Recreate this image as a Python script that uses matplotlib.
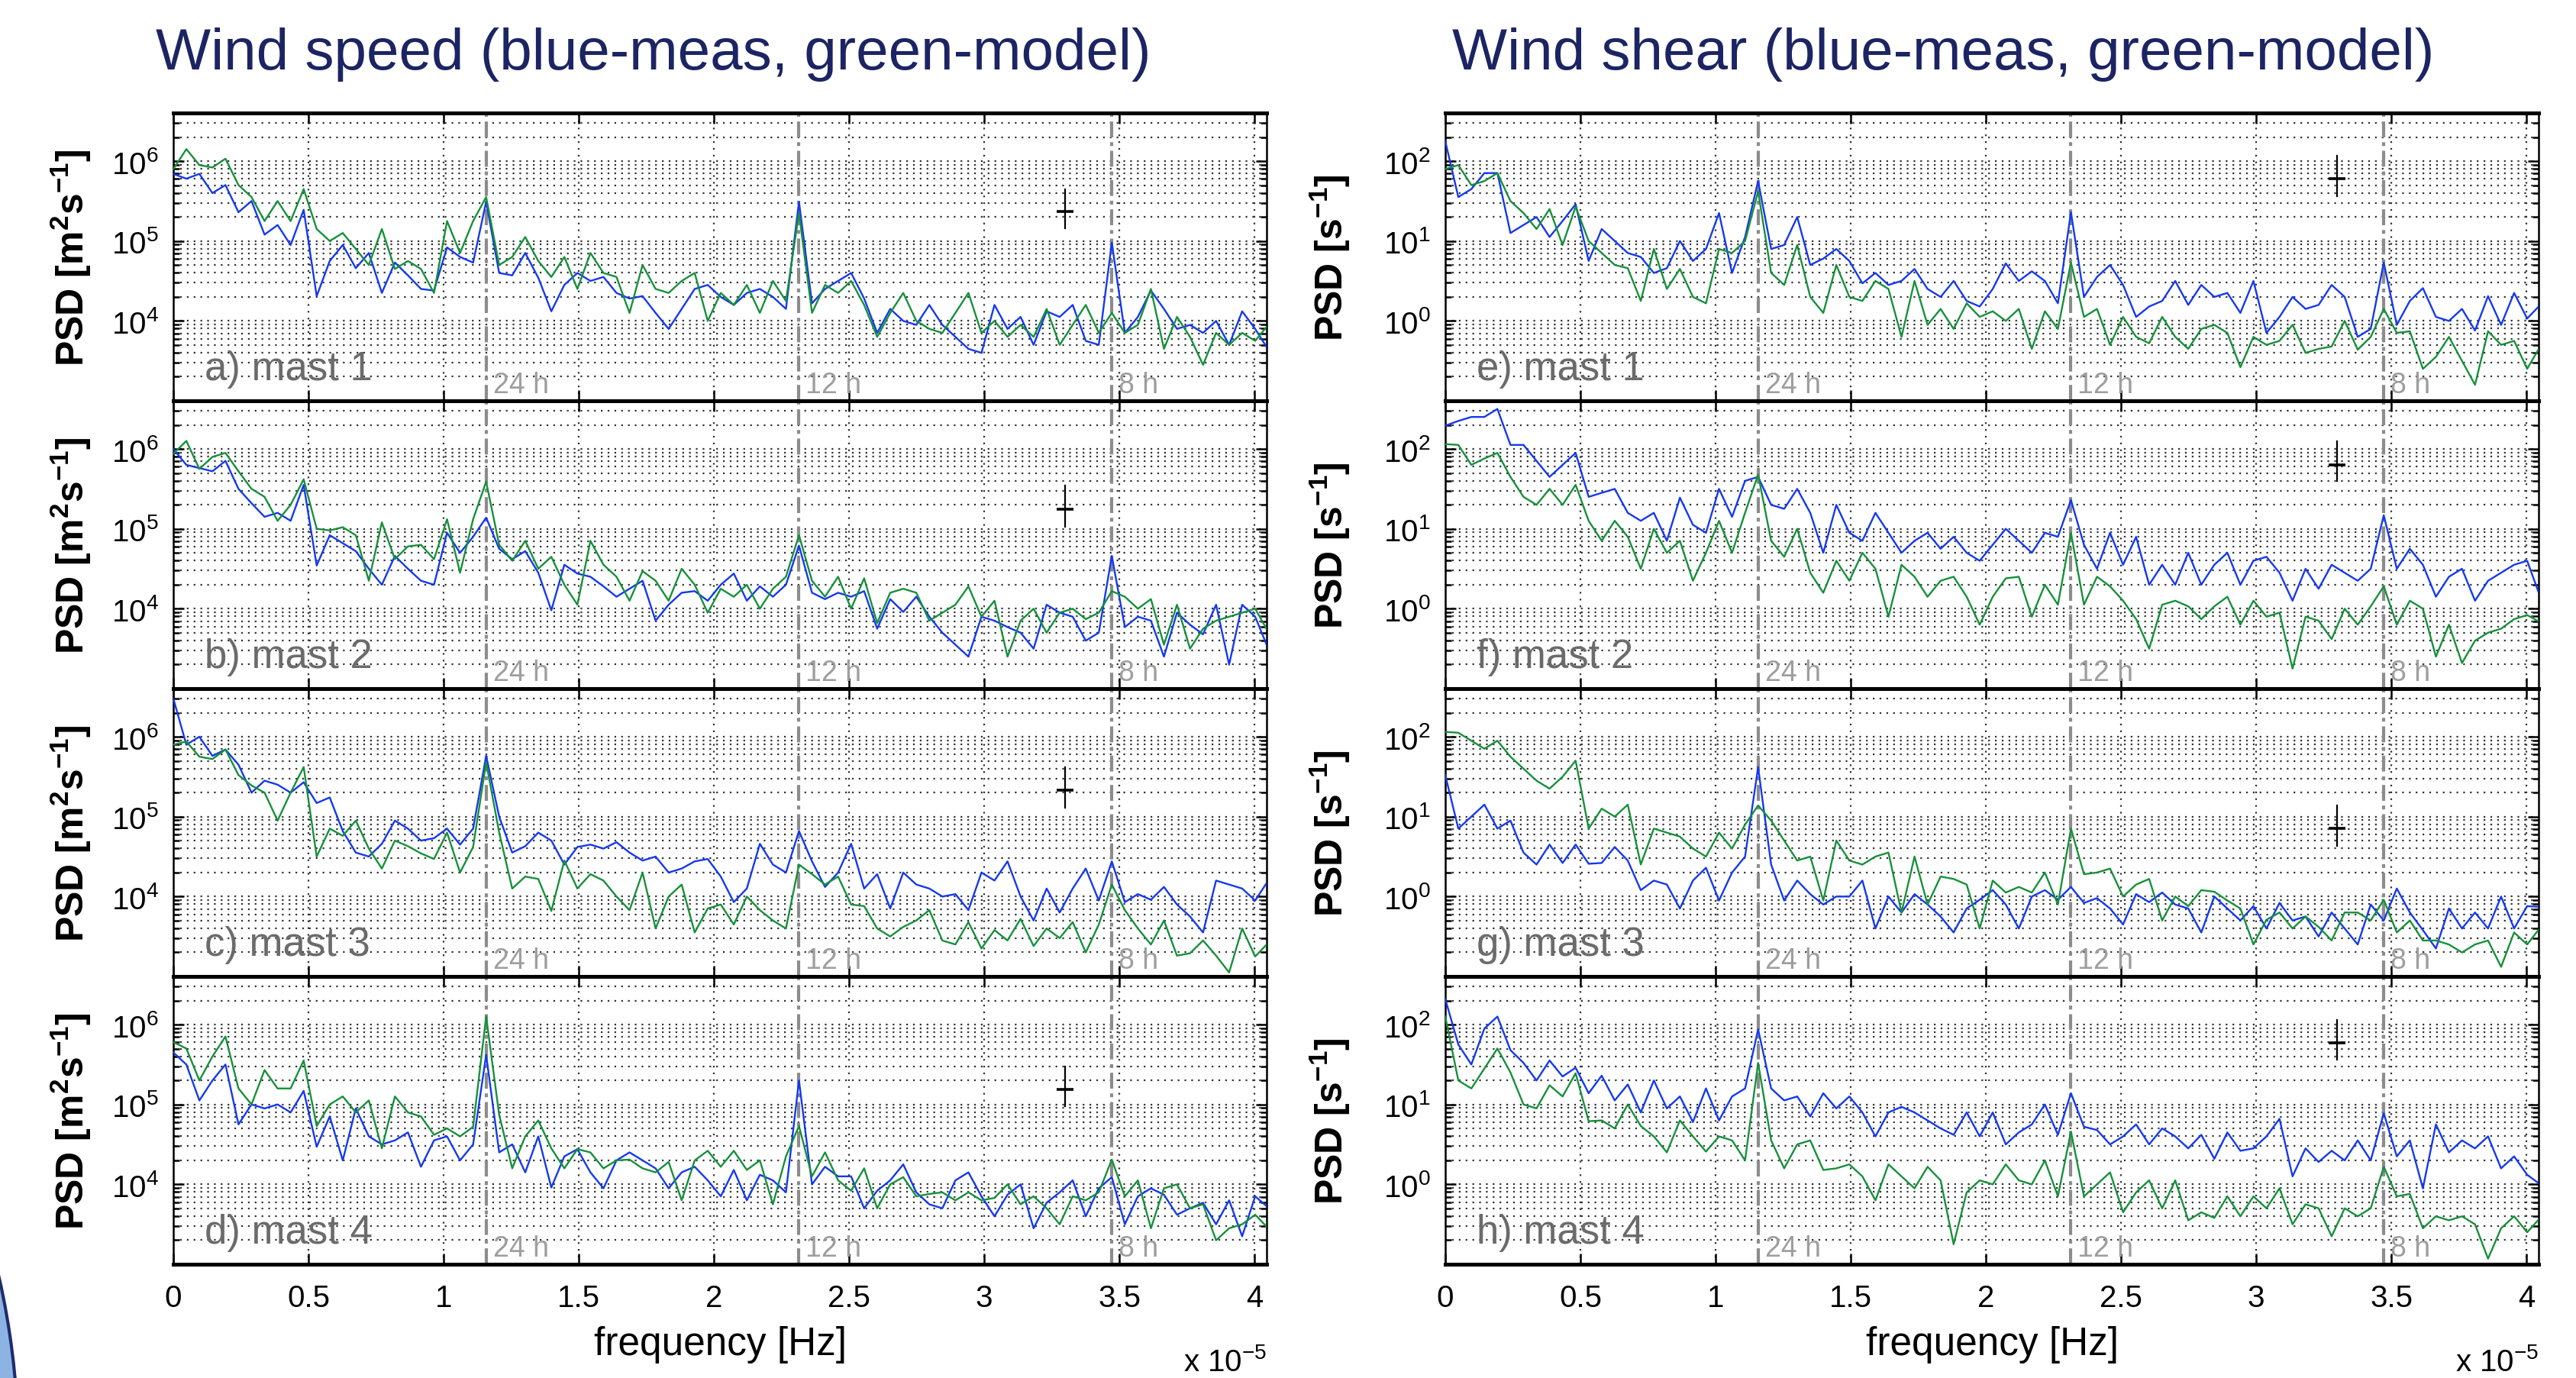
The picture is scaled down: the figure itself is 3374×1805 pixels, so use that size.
import numpy as np
import matplotlib.pyplot as plt
from matplotlib.patches import Ellipse
from matplotlib.ticker import FixedLocator, NullFormatter

plt.rcParams['font.family'] = ['Liberation Sans', 'DejaVu Sans']
plt.rcParams['mathtext.fontset'] = 'custom'
plt.rcParams['mathtext.rm'] = 'Liberation Sans'
plt.rcParams['mathtext.it'] = 'Liberation Sans:italic'
plt.rcParams['mathtext.bf'] = 'Liberation Sans:bold'
plt.rcParams['mathtext.default'] = 'regular'

# frequency axis in units of 1e-5 Hz, 24 bins per cycle/day
f_day = 1e5 / 86400.0
n_bins = 85
period_hours = [24, 12, 8]
xtick_vals = [0, 0.5, 1, 1.5, 2, 2.5, 3, 3.5, 4]
xtick_labels = ['0', '0.5', '1', '1.5', '2', '2.5', '3', '3.5', '4']

# log10 of PSD
# wind speed, measured (blue)
spd_meas_1 = [5.84, 5.78, 5.84, 5.6, 5.7, 5.36, 5.5, 5.08, 5.2, 4.95,
              5.39, 4.31, 4.75, 4.95, 4.66, 4.85, 4.35, 4.73, 4.57, 4.4,
              4.38, 4.92, 4.8, 4.73, 5.49, 4.6, 4.57, 4.85, 4.54, 4.12,
              4.45, 4.6, 4.5, 4.55, 4.35, 4.28, 4.31, 4.1, 3.9, 4.15,
              4.4, 4.45, 4.3, 4.2, 4.35, 4.4, 4.3, 4.15, 5.49, 4.22,
              4.4, 4.5, 4.6, 4.28, 3.85, 4.15, 4.0, 3.95, 4.2, 3.95,
              3.8, 3.65, 3.6, 4.2, 3.9, 4.05, 3.7, 4.12, 4.05, 4.2,
              3.75, 3.7, 4.98, 3.85, 4.05, 4.38, 4.15, 3.9, 3.95, 3.85,
              4.0, 3.7, 4.12, 3.9, 3.64]
spd_meas_2 = [6.0, 5.8, 5.76, 5.72, 5.85, 5.5, 5.32, 5.15, 5.2, 5.1,
              5.55, 4.54, 4.92, 4.82, 4.72, 4.5, 4.3, 4.66, 4.5, 4.35,
              4.3, 4.95, 4.7, 4.9, 5.14, 4.75, 4.62, 4.72, 4.45, 3.98,
              4.55, 4.44, 4.4, 4.28, 4.15, 4.25, 4.35, 3.85, 4.05, 4.2,
              4.22, 4.1, 4.3, 4.44, 4.1, 4.28, 4.15, 4.3, 4.79, 4.2,
              4.12, 4.2, 4.15, 4.22, 3.75, 4.12, 3.96, 4.15, 3.9, 3.7,
              3.55, 3.4, 3.9, 3.85, 3.77, 3.7, 3.5, 4.05, 3.95, 3.9,
              3.6, 3.7, 4.66, 3.77, 3.9, 3.85, 3.4, 3.95, 3.8, 3.68,
              4.05, 3.3, 4.05, 3.9, 3.5]
spd_meas_3 = [6.48, 5.9, 6.0, 5.76, 5.84, 5.65, 5.3, 5.45, 5.4, 5.3,
              5.43, 5.17, 5.24, 4.82, 4.55, 4.5, 4.66, 4.95, 4.85, 4.7,
              4.73, 4.85, 4.65, 4.85, 5.76, 5.0, 4.55, 4.63, 4.8, 4.7,
              4.4, 4.62, 4.65, 4.6, 4.68, 4.55, 4.45, 4.5, 4.3, 4.35,
              4.44, 4.47, 4.25, 3.93, 4.1, 4.66, 4.4, 4.3, 4.82, 4.44,
              4.12, 4.3, 4.66, 4.1, 4.28, 3.85, 4.3, 4.15, 4.1, 4.0,
              4.03, 3.83, 4.3, 4.2, 4.44, 4.0, 3.7, 4.1, 3.8, 4.1,
              4.35, 3.95, 4.44, 3.93, 4.03, 3.96, 4.12, 3.9, 3.75, 3.55,
              4.2, 4.15, 4.1, 3.95, 4.2]
spd_meas_4 = [5.65, 5.5, 5.05, 5.3, 5.5, 4.75, 5.0, 4.95, 5.0, 4.9,
              5.17, 4.47, 4.85, 4.3, 4.95, 4.6, 4.5, 4.55, 4.65, 4.22,
              4.55, 4.6, 4.3, 4.5, 5.62, 4.4, 4.5, 4.15, 4.6, 3.96,
              4.35, 4.44, 4.15, 3.95, 4.3, 4.4, 4.3, 4.2, 3.95, 4.15,
              4.22, 4.05, 3.85, 4.18, 3.8, 4.12, 4.05, 3.9, 5.3, 4.0,
              4.22, 4.1, 4.1, 3.7, 3.92, 4.05, 4.25, 3.9, 3.75, 3.7,
              4.05, 4.15, 3.85, 3.6, 3.87, 4.0, 3.45, 3.77, 3.9, 4.05,
              3.6, 3.95, 4.09, 3.5, 3.85, 3.95, 3.87, 3.62, 3.7, 3.77,
              3.5, 3.8, 3.35, 3.85, 3.71]

# wind speed, model (green)
spd_model_1 = [5.90, 6.15, 5.95, 5.92, 6.03, 5.70, 5.55, 5.25, 5.5, 5.25,
               5.65, 5.15, 5.0, 5.1, 4.9, 4.7, 5.15, 4.65, 4.75, 4.65,
               4.35, 5.25, 4.85, 5.25, 5.55, 4.7, 4.8, 5.05, 4.75, 4.55,
               4.8, 4.4, 4.85, 4.6, 4.55, 4.1, 4.7, 4.4, 4.35, 4.5,
               4.6, 4.0, 4.35, 4.2, 4.45, 4.1, 4.5, 4.25, 5.35, 4.1,
               4.45, 4.35, 4.5, 4.2, 3.8, 4.1, 4.35, 4.0, 3.9, 3.85,
               4.1, 4.35, 3.85, 4.0, 3.8, 3.95, 3.8, 4.15, 3.7, 3.95,
               4.2, 3.85, 4.1, 3.85, 3.95, 4.4, 3.65, 4.05, 3.8, 3.45,
               3.85, 3.7, 3.85, 3.75, 3.95]
spd_model_2 = [5.94, 6.1, 5.75, 5.9, 5.95, 5.72, 5.5, 5.4, 5.1, 5.3,
               5.62, 5.0, 4.98, 5.02, 4.92, 4.35, 5.08, 4.62, 4.78, 4.8,
               4.62, 5.12, 4.45, 5.12, 5.59, 4.8, 4.6, 4.85, 4.5, 4.65,
               4.3, 4.05, 4.85, 4.55, 4.4, 4.1, 4.47, 4.35, 4.1, 4.5,
               4.3, 3.95, 4.25, 4.15, 4.3, 4.0, 4.25, 4.4, 4.92, 4.35,
               4.15, 4.4, 4.0, 4.38, 3.82, 4.2, 4.25, 4.2, 3.85, 3.95,
               4.05, 4.28, 3.9, 4.1, 3.4, 3.85, 4.0, 3.7, 3.95, 4.0,
               3.87, 3.95, 4.22, 4.15, 4.0, 4.12, 3.55, 4.05, 3.5, 3.75,
               3.85, 3.9, 3.95, 4.0, 3.71]
spd_model_3 = [5.9, 5.94, 5.75, 5.72, 5.84, 5.52, 5.39, 5.3, 4.95, 5.3,
               5.62, 4.5, 4.85, 4.76, 4.95, 4.6, 4.35, 4.7, 4.63, 4.54,
               4.47, 4.8, 4.3, 4.62, 5.68, 4.8, 4.1, 4.25, 4.22, 3.82,
               4.45, 4.1, 4.28, 4.2, 4.0, 3.83, 4.3, 3.6, 4.0, 4.15,
               3.55, 3.85, 3.9, 3.65, 4.0, 3.83, 3.7, 3.6, 4.4, 4.28,
               4.15, 4.25, 3.9, 3.88, 3.6, 3.5, 3.62, 3.7, 3.83, 3.45,
               3.4, 3.68, 3.35, 3.58, 3.45, 3.72, 3.38, 3.6, 3.48, 3.68,
               3.3, 3.65, 4.15, 3.83, 3.6, 3.4, 3.7, 3.26, 3.29, 3.45,
               3.26, 3.05, 3.6, 3.25, 3.42]
spd_model_4 = [5.78, 5.7, 5.3, 5.6, 5.85, 5.2, 5.0, 5.43, 5.2, 5.2,
               5.55, 4.73, 5.0, 5.1, 4.9, 5.05, 4.45, 5.1, 4.9, 4.85,
               4.62, 4.7, 4.6, 4.72, 6.1, 4.87, 4.2, 4.6, 4.8, 4.45,
               4.2, 4.44, 4.4, 4.2, 4.3, 4.31, 4.2, 4.15, 4.28, 3.8,
               4.3, 4.42, 4.22, 4.42, 4.18, 4.3, 3.75, 4.35, 4.73, 4.1,
               4.4, 4.05, 3.92, 4.2, 3.7, 4.0, 4.09, 3.85, 3.88, 3.9,
               3.8, 3.9, 3.8, 3.83, 4.0, 3.75, 3.85, 3.7, 3.5, 3.85,
               3.8, 3.9, 4.31, 3.85, 4.05, 3.45, 3.95, 4.0, 3.7, 3.75,
               3.3, 3.45, 3.5, 3.62, 3.45]

# wind shear, measured (blue)
shr_meas_1 = [2.25, 1.55, 1.65, 1.85, 1.85, 1.1, 1.2, 1.3, 1.05, 1.25,
              1.46, 0.75, 1.15, 1.0, 0.85, 0.8, 0.6, 0.66, 1.0, 0.75,
              0.9, 1.35, 0.6, 1.05, 1.75, 0.9, 0.95, 1.3, 0.7, 0.78,
              0.9, 0.75, 0.47, 0.6, 0.45, 0.5, 0.65, 0.4, 0.3, 0.5,
              0.25, 0.18, 0.4, 0.72, 0.5, 0.62, 0.5, 0.22, 1.36, 0.3,
              0.55, 0.7, 0.45, 0.05, 0.18, 0.25, 0.5, 0.2, 0.45, 0.3,
              0.35, 0.1, 0.5, -0.15, 0.05, 0.3, 0.15, 0.2, 0.45, 0.3,
              -0.2, -0.1, 0.73, -0.05, 0.25, 0.41, 0.05, 0.0, 0.15, -0.12,
              0.31, -0.05, 0.35, 0.03, 0.2]
shr_meas_2 = [2.29, 2.35, 2.4, 2.4, 2.5, 2.05, 2.05, 1.85, 1.65, 1.8,
              1.95, 1.4, 1.45, 1.5, 1.2, 1.1, 1.2, 0.85, 1.39, 1.05,
              0.95, 1.5, 1.15, 1.6, 1.65, 1.3, 1.25, 1.5, 1.2, 0.7,
              1.3, 0.95, 0.85, 1.2, 0.95, 0.7, 0.85, 0.95, 0.75, 0.9,
              0.7, 0.6, 0.8, 1.0, 0.85, 0.7, 0.95, 0.9, 1.36, 0.8,
              0.5, 0.95, 0.55, 0.9, 0.3, 0.55, 0.3, 0.7, 0.3, 0.55,
              0.7, 0.3, 0.6, 0.65, 0.45, 0.1, 0.5, 0.25, 0.55, 0.45,
              0.35, 0.5, 1.17, 0.5, 0.75, 0.55, 0.15, 0.4, 0.5, 0.1,
              0.35, 0.45, 0.55, 0.6, 0.15]
shr_meas_3 = [1.52, 0.85, 1.0, 1.15, 0.85, 0.95, 0.55, 0.4, 0.65, 0.42,
              0.65, 0.41, 0.42, 0.62, 0.45, 0.08, 0.2, 0.15, -0.15, 0.2,
              0.36, -0.05, 0.3, 0.5, 1.62, 0.4, -0.05, 0.2, 0.03, -0.1,
              0.0, 0.0, 0.2, -0.4, 0.0, -0.2, 0.03, -0.1, -0.25, -0.45,
              -0.15, -0.04, 0.08, -0.1, -0.4, 0.0, 0.08, -0.04, 0.12, -0.08,
              -0.02, -0.15, -0.35, 0.03, -0.07, 0.05, -0.1, -0.15, -0.45, 0.0,
              -0.15, -0.3, -0.12, -0.4, -0.08, -0.3, -0.25, -0.5, -0.2, -0.4,
              -0.6, -0.1, -0.3, 0.1, -0.2, -0.42, -0.65, -0.15, -0.4, -0.2,
              -0.4, 0.0, -0.4, -0.12, -0.13]
shr_meas_4 = [2.32, 1.75, 1.5, 1.95, 2.1, 1.68, 1.52, 1.3, 1.55, 1.35,
              1.46, 1.14, 1.36, 1.05, 1.25, 0.9, 1.3, 0.95, 1.1, 0.78,
              1.2, 0.8, 1.1, 1.2, 1.94, 1.2, 1.05, 1.1, 0.85, 1.14,
              0.95, 1.1, 0.9, 0.6, 0.9, 0.97, 0.9, 0.8, 0.7, 0.62,
              0.9, 0.6, 0.9, 0.5, 0.65, 0.75, 1.0, 0.62, 1.14, 0.72,
              0.68, 0.5, 0.6, 0.75, 0.5, 0.7, 0.6, 0.45, 0.62, 0.32,
              0.65, 0.42, 0.45, 0.6, 0.82, 0.1, 0.45, 0.28, 0.42, 0.3,
              0.55, 0.3, 0.89, 0.35, 0.55, -0.05, 0.75, 0.4, 0.55, 0.45,
              0.6, 0.2, 0.35, 0.12, 0.0]

# wind shear, model (green)
shr_model_1 = [1.9, 1.95, 1.7, 1.75, 1.85, 1.5, 1.35, 1.15, 1.4, 0.95,
               1.43, 1.0, 0.85, 0.7, 0.66, 0.25, 0.9, 0.4, 0.65, 0.3,
               0.22, 0.9, 0.85, 1.0, 1.62, 0.6, 0.45, 0.95, 0.3, 0.1,
               0.7, 0.3, 0.25, 0.5, 0.4, -0.2, 0.5, -0.05, 0.15, -0.1,
               0.22, 0.05, 0.12, 0.0, 0.15, -0.35, 0.12, -0.1, 0.73, 0.05,
               0.15, -0.3, 0.05, -0.2, -0.28, 0.05, -0.2, -0.35, -0.1, -0.05,
               -0.15, -0.58, -0.2, -0.3, -0.25, -0.05, -0.4, -0.35, -0.32, 0.0,
               -0.36, -0.2, 0.15, -0.15, -0.13, -0.6, -0.45, -0.2, -0.5, -0.8,
               -0.13, -0.3, -0.25, -0.6, -0.32]
shr_model_2 = [2.06, 2.05, 1.8, 1.88, 1.95, 1.65, 1.4, 1.3, 1.5, 1.3,
               1.55, 1.1, 0.85, 1.1, 0.9, 0.5, 1.0, 0.7, 0.85, 0.35,
               0.7, 1.1, 0.7, 1.2, 1.68, 0.85, 0.65, 1.0, 0.45, 0.2,
               0.6, 0.35, 0.7, 0.5, -0.1, 0.55, 0.4, 0.15, 0.35, 0.4,
               0.15, -0.2, 0.15, 0.38, 0.4, -0.1, 0.3, 0.05, 0.95, 0.05,
               0.4, 0.28, 0.1, -0.13, -0.5, 0.05, 0.1, 0.03, -0.13, 0.03,
               0.15, -0.2, 0.1, -0.1, -0.05, -0.75, -0.1, -0.15, -0.38, 0.0,
               -0.2, 0.03, 0.28, -0.2, 0.1, 0.0, -0.6, -0.2, -0.68, -0.4,
               -0.3, -0.25, -0.13, -0.08, -0.17]
shr_model_3 = [2.06, 2.05, 1.95, 1.85, 1.95, 1.75, 1.6, 1.45, 1.35, 1.5,
               1.7, 0.85, 1.1, 1.0, 1.15, 0.4, 0.85, 0.8, 0.75, 0.6,
               0.5, 0.8, 0.6, 0.9, 1.14, 0.95, 0.7, 0.45, 0.5, -0.05,
               0.7, 0.45, 0.4, 0.5, 0.55, -0.2, 0.5, -0.1, 0.25, 0.22,
               0.15, -0.4, 0.2, 0.05, 0.12, 0.05, 0.3, -0.1, 0.85, 0.28,
               0.3, 0.35, 0.0, 0.15, 0.22, -0.3, 0.0, -0.12, 0.08, 0.06,
               -0.05, -0.15, -0.6, -0.29, -0.2, -0.4, -0.25, -0.38, -0.55, -0.2,
               -0.2, -0.3, -0.04, -0.45, -0.3, -0.55, -0.55, -0.6, -0.7, -0.6,
               -0.55, -0.88, -0.45, -0.6, -0.39]
shr_model_4 = [2.1, 1.3, 1.2, 1.45, 1.7, 1.4, 1.0, 0.95, 1.24, 1.1,
               1.39, 0.79, 0.8, 0.7, 1.0, 0.73, 0.6, 0.4, 0.8, 0.6,
               0.41, 0.6, 0.55, 0.3, 1.52, 0.55, 0.2, 0.5, 0.55, 0.18,
               0.2, 0.25, 0.1, -0.2, 0.25, 0.1, -0.05, 0.22, 0.05, -0.75,
               -0.1, 0.05, 0.0, 0.25, 0.05, 0.0, 0.3, -0.15, 0.66, -0.15,
               0.0, 0.15, -0.35, -0.1, 0.05, -0.3, 0.05, -0.45, -0.35, -0.42,
               -0.15, -0.4, -0.15, -0.3, -0.05, -0.5, -0.25, -0.3, -0.65, -0.3,
               -0.4, -0.3, 0.22, -0.15, -0.12, -0.55, -0.4, -0.45, -0.4, -0.5,
               -0.93, -0.55, -0.4, -0.6, -0.42]

# confidence bars (log10 low / centre / high) at f = 3.3e-5
err_x = 3.30
spd_err_lo = [5.16, 5.03, 5.11, 4.98]
spd_err_mid = [5.37, 5.25, 5.33, 5.19]
spd_err_hi = [5.65, 5.54, 5.62, 5.47]
shr_err_lo = [1.56, 1.60, 0.63, 1.56]
shr_err_mid = [1.78, 1.80, 0.85, 1.77]
shr_err_hi = [2.07, 2.10, 1.14, 2.06]

masts = ['mast 1', 'mast 2', 'mast 3', 'mast 4']
letters_spd = ['a)', 'b)', 'c)', 'd)']
letters_shr = ['e)', 'f)', 'g)', 'h)']

blue = '#1438f0'
green = '#16903a'
navy = '#1c2463'

W, H = 3374, 1806
fig = plt.figure(figsize=(W / 200, H / 200), dpi=200)
fig.patch.set_facecolor('white')

col_left = [227, 1893]
row_top = [149, 526, 903, 1280]
pw, ph = 1432, 377

columns = [
    dict(meas=[spd_meas_1, spd_meas_2, spd_meas_3, spd_meas_4],
         model=[spd_model_1, spd_model_2, spd_model_3, spd_model_4],
         lo=spd_err_lo, mid=spd_err_mid, hi=spd_err_hi,
         letters=letters_spd, decades=[3, 4, 5], top=4e6,
         ylabel='PSD [m$^2$s$^{-1}$]', labx=-0.073,
         title='Wind speed (blue-meas, green-model)', titlex=204),
    dict(meas=[shr_meas_1, shr_meas_2, shr_meas_3, shr_meas_4],
         model=[shr_model_1, shr_model_2, shr_model_3, shr_model_4],
         lo=shr_err_lo, mid=shr_err_mid, hi=shr_err_hi,
         letters=letters_shr, decades=[-1, 0, 1], top=4e2,
         ylabel='PSD [s$^{-1}$]', labx=-0.085,
         title='Wind shear (blue-meas, green-model)', titlex=1902),
]

freq = np.arange(n_bins) * f_day / 24

for c, col in enumerate(columns):
    for r in range(4):
        ax = fig.add_axes([col_left[c] / W, 1 - (row_top[r] + ph) / H, pw / W, ph / H])
        dec = col['decades']
        bottom = 10.0 ** dec[0]

        ax.semilogy(freq, 10 ** np.array(col['meas'][r]), color=blue, lw=0.85, zorder=3)
        ax.semilogy(freq, 10 ** np.array(col['model'][r]), color=green, lw=0.85, zorder=3)

        ax.set_xlim(0, 4.045)
        ax.set_ylim(bottom, col['top'])

        # ticks and grid
        ax.set_xticks(xtick_vals)
        major = [10.0 ** d for d in dec[1:]] + [10.0 ** (dec[-1] + 1)]
        ax.set_yticks(major)
        ax.set_yticklabels(['$10^{%d}$' % (d) for d in dec[1:] + [dec[-1] + 1]])
        minors = [k * 10.0 ** d for d in dec + [dec[-1] + 1] for k in range(2, 10)]
        minors = [m for m in minors if m <= col['top'] * 1.001]
        ax.yaxis.set_minor_locator(FixedLocator(minors))
        ax.yaxis.set_minor_formatter(NullFormatter())
        ax.grid(True, which='major', axis='x', ls=(0, (1, 3)), color='0.2', lw=0.8)
        ax.grid(True, which='both', axis='y', ls=(0, (1, 3)), color='0.2', lw=0.8)
        ax.axhline(bottom, color='0.2', lw=0.8, ls=(0, (1, 3)))
        ax.tick_params(which='both', direction='in', top=True, right=True, labelsize=14.5)
        ax.tick_params(which='major', length=5, width=0.9, pad=7)
        ax.tick_params(which='minor', length=3, width=0.9)
        if r < 3:
            ax.set_xticklabels([])
        else:
            ax.set_xticklabels(xtick_labels)
            ax.tick_params(axis='x', pad=9)

        for side in ['top', 'bottom']:
            ax.spines[side].set_linewidth(1.8)
        for side in ['left', 'right']:
            ax.spines[side].set_linewidth(0.9)

        # diurnal harmonics
        for h in period_hours:
            xf = 1e5 / (h * 3600.0)
            ax.axvline(xf, color='0.55', lw=1.5, ls=(0, (5, 1.5, 1.2, 1.5)), zorder=2)
            ax.text(xf + 0.025, 0.03, '%d h' % h, transform=ax.get_xaxis_transform(),
                    color='0.62', fontsize=13.5, ha='left', va='baseline')

        # confidence bar
        ax.plot([err_x, err_x], [10 ** col['lo'][r], 10 ** col['hi'][r]], color='k', lw=0.8, zorder=4)
        ax.plot([err_x], [10 ** col['mid'][r]], marker='_', ms=8, mew=1.3, color='k', zorder=4)

        ax.text(0.0286, 0.074, '%s %s' % (col['letters'][r], masts[r]), transform=ax.transAxes,
                color='0.42', fontsize=19, ha='left', va='baseline')

        ax.set_ylabel(col['ylabel'], fontsize=18, fontweight='bold')
        ax.yaxis.set_label_coords(col['labx'], 0.5)

    fig.text(col['titlex'] / W, 1 - 91 / H, col['title'], fontsize=27.5, color=navy,
             ha='left', va='baseline')
    fig.text((col_left[c] + pw / 2) / W, 1 - 1775 / H, 'frequency [Hz]', fontsize=18.5,
             ha='center', va='baseline')
    fig.text((col_left[c] + pw) / W, 1 - 1796 / H, 'x 10$^{-5}$', fontsize=14.5,
             ha='right', va='baseline')

# slide decoration in the lower left corner
fig.add_artist(Ellipse((-1000 / W, 1 - 1900 / H), width=2 * 1024 / W, height=2 * 1024 / H,
                       transform=fig.transFigure, facecolor='#8db3e2', edgecolor='#1f2d6e', lw=1.5))

fig.savefig('out.png', dpi=200, facecolor='white')
